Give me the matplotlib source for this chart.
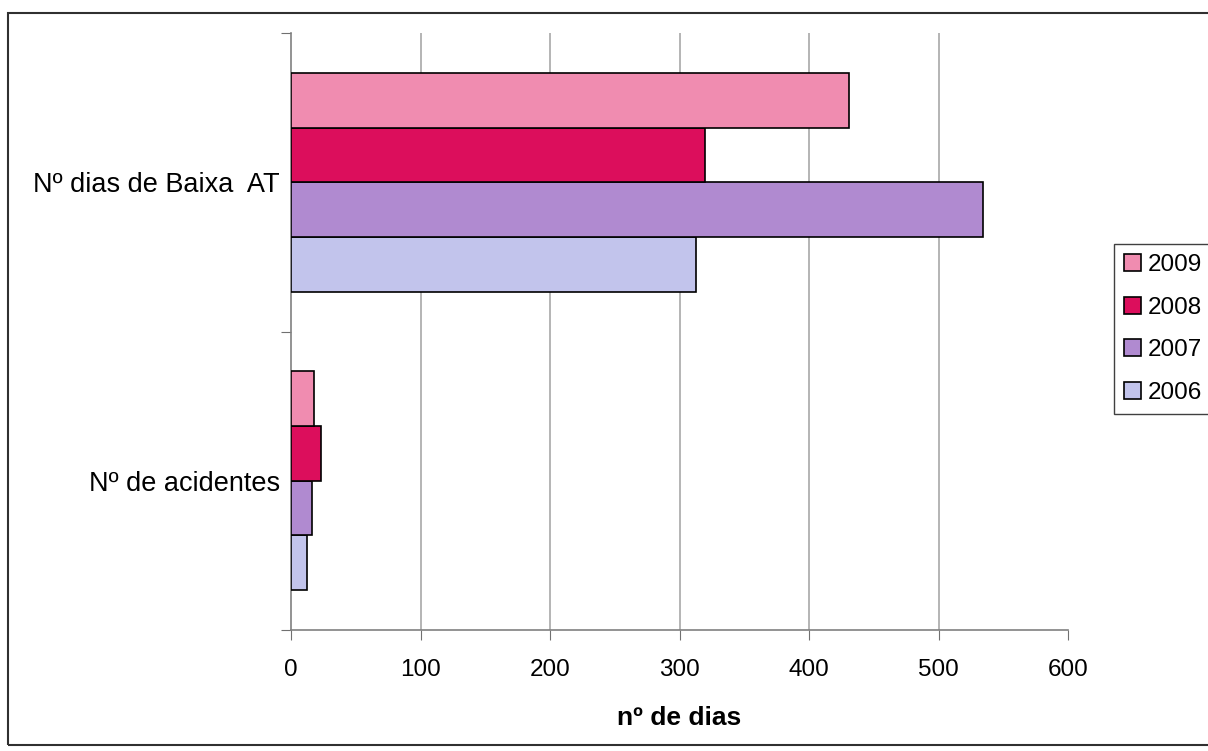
import matplotlib.pyplot as plt
from matplotlib.patches import Rectangle

categories = ['Nº de acidentes', 'Nº dias de Baixa  AT']
years = ['2006', '2007', '2008', '2009']
values = {
    '2006': [12, 313],
    '2007': [16, 534],
    '2008': [23, 320],
    '2009': [18, 431],
}
colors = {
    '2006': '#c2c4ec',
    '2007': '#b08ad0',
    '2008': '#dc0e5c',
    '2009': '#f08cb0',
}
x_ticks = [0, 100, 200, 300, 400, 500, 600]

plt.rcParams['font.family'] = ['Liberation Sans', 'DejaVu Sans']

fig = plt.figure(figsize=(12.08, 7.51), dpi=100)
ax = fig.add_axes([291 / 1208, 1 - 630 / 751, (1068 - 291) / 1208, (630 - 33) / 751])

h = 0.183
pos = list(range(len(categories)))
handles = {}
for i, year in enumerate(years):
    off = (i - 1.5) * h
    handles[year] = ax.barh([p + off for p in pos], values[year], height=h,
                            color=colors[year], edgecolor='black', linewidth=1.2, zorder=3)

ax.set_xlim(0, 600)
ax.set_ylim(-0.5, 1.5)
ax.set_xticks(x_ticks)
ax.set_xticklabels([str(t) for t in x_ticks], fontsize=17.5)
ax.vlines(x_ticks[1:-1], -0.5, 1.5, color='#a8a8a8', linewidth=1.2, zorder=1)

ax.set_yticks([-0.5, 0.5, 1.5])
ax.set_yticklabels([])
ax.set_yticks(pos, minor=True)
ax.set_yticklabels(categories, minor=True, fontsize=19.5)
ax.tick_params(axis='y', which='minor', length=0, pad=8)
ax.tick_params(axis='y', which='major', length=7, color='#707070')
ax.tick_params(axis='x', length=7, color='#707070', pad=14)

for s in ['top', 'right']:
    ax.spines[s].set_visible(False)
for s in ['left', 'bottom']:
    ax.spines[s].set_color('#808080')
    ax.spines[s].set_linewidth(1.2)

ax.set_xlabel('nº de dias', fontsize=19, fontweight='bold', labelpad=18)

leg = fig.legend([handles[y] for y in reversed(years)], list(reversed(years)),
                 loc='center left', bbox_to_anchor=(1114 / 1208, 1 - 329 / 751),
                 fontsize=17.5, handlelength=0.7, handleheight=0.7, handletextpad=0.3,
                 labelspacing=0.85, borderpad=0.4, fancybox=False, framealpha=1,
                 borderaxespad=0)
leg.get_frame().set_edgecolor('#404040')
leg.get_frame().set_linewidth(1.0)

fig.patches.append(Rectangle((8 / 1208, 1 - 745 / 751), 1.2, (745 - 13) / 751,
                             transform=fig.transFigure, fill=False,
                             edgecolor='#303030', linewidth=1.5))

fig.savefig('out.png', dpi=100)
